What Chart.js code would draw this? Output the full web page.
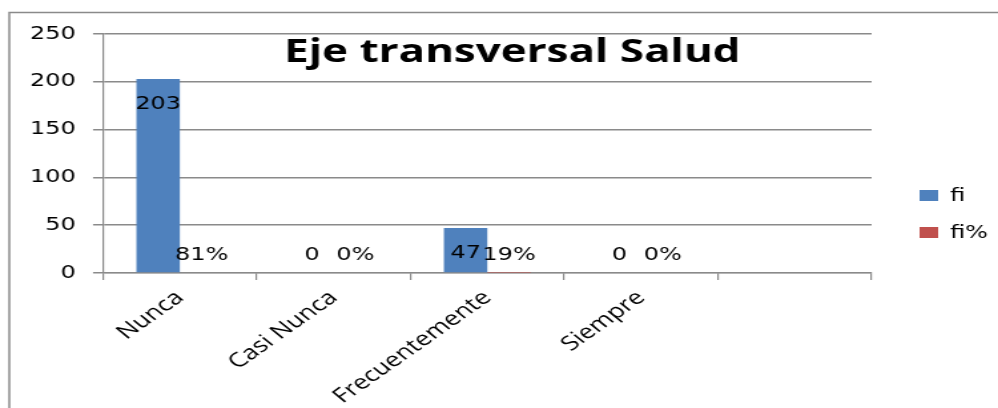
<!DOCTYPE html>
<html>
<head>
<meta charset="utf-8">
<script src="https://cdn.jsdelivr.net/npm/chart.js@4"></script>
<style>
  html, body { margin: 0; padding: 0; background: #fff; overflow: hidden; }
  #wrap { width: 998px; height: 408px; overflow: hidden; }
  /* the original picture is a horizontally stretched Excel chart */
  #chart { transform: scaleX(1.3307); transform-origin: 0 0; }
</style>
</head>
<body>
<div id="wrap"><canvas id="chart" width="750" height="408"></canvas></div>
<script>
// data
const categories = ['Nunca', 'Casi Nunca', 'Frecuentemente', 'Siempre', ''];
const fiValues = [203, 0, 47, 0, null];
const fiPctValues = [0.81, 0, 0.19, 0, null];
const yTicks = [0, 50, 100, 150, 200, 250];
const chartTitle = 'Eje transversal Salud';

const numFont = '"DejaVu Sans", sans-serif';
const textFont = '"Open Sans", sans-serif';

// frame around the whole chart
const framePlugin = {
    id: 'frame',
    beforeDraw(chart) {
        const ctx = chart.ctx;
        ctx.save();
        ctx.strokeStyle = '#8a8a8a';
        ctx.lineWidth = 1.5;
        ctx.strokeRect(7, 12.5, 900, 600);
        ctx.restore();
    }
};

// value labels on the bars
const valueLabels = {
    id: 'valueLabels',
    afterDatasetsDraw(chart) {
        const ctx = chart.ctx;
        const base = chart.scales.y.getPixelForValue(0);
        ctx.save();
        ctx.font = '18px ' + numFont;
        ctx.fillStyle = '#000';
        ctx.textAlign = 'center';
        ctx.textBaseline = 'middle';
        chart.data.datasets.forEach((ds, i) => {
            chart.getDatasetMeta(i).data.forEach((bar, j) => {
                const v = ds.data[j];
                if (v === null) return;
                const txt = i === 0 ? String(v) : Math.round(v * 100) + '%';
                const y = Math.min(bar.y + 25, base - 18);
                ctx.fillText(txt, bar.x, y);
            });
        });
        ctx.restore();
    }
};

// title over the plot and legend on the right
const overlay = {
    id: 'overlay',
    afterDraw(chart) {
        const ctx = chart.ctx;
        const area = chart.chartArea;
        ctx.save();
        ctx.fillStyle = '#000';
        ctx.font = 'bold 33px ' + textFont;
        ctx.textAlign = 'center';
        ctx.textBaseline = 'alphabetic';
        ctx.fillText(chartTitle, 385, 62);

        ctx.font = '18px ' + numFont;
        ctx.textAlign = 'left';
        ctx.textBaseline = 'middle';
        chart.data.datasets.forEach((ds, i) => {
            const y = 196 + i * 37;
            ctx.fillStyle = ds.backgroundColor;
            ctx.fillRect(area.right + 36, y - 6, 14, 11);
            ctx.fillStyle = '#000';
            ctx.fillText(ds.label, area.right + 59, y);
        });
        ctx.restore();
    }
};

new Chart(document.getElementById('chart'), {
    type: 'bar',
    data: {
        labels: categories,
        datasets: [
            { label: 'fi', data: fiValues, backgroundColor: '#4F81BD' },
            { label: 'fi%', data: fiPctValues, backgroundColor: '#C0504D' }
        ]
    },
    options: {
        responsive: false,
        animation: false,
        devicePixelRatio: 1,
        layout: { padding: { left: 0, top: 34, right: 95, bottom: 0 } },
        datasets: {
            bar: { categoryPercentage: 0.565, barPercentage: 1 }
        },
        plugins: {
            legend: { display: false },
            tooltip: { enabled: false }
        },
        scales: {
            x: {
                grid: { offset: true, drawOnChartArea: false, color: '#8a8a8a', tickLength: 7, lineWidth: 1.2 },
                border: { color: '#8a8a8a', width: 1.2 },
                ticks: {
                    autoSkip: false,
                    maxRotation: 43,
                    minRotation: 43,
                    padding: 6,
                    color: '#000',
                    font: { family: textFont, size: 20 }
                },
                afterFit(axis) { axis.height = 135; }
            },
            y: {
                min: 0,
                max: 250,
                afterBuildTicks(axis) { axis.ticks = yTicks.map(v => ({ value: v })); },
                grid: { color: '#8a8a8a', lineWidth: 1.5, tickLength: 7.5 },
                border: { color: '#8a8a8a', width: 1.2 },
                ticks: {
                    padding: 13,
                    color: '#000',
                    font: { family: numFont, size: 18 }
                },
                afterFit(axis) { axis.width = 77.4; }
            }
        }
    },
    plugins: [framePlugin, valueLabels, overlay]
});
</script>
</body>
</html>
